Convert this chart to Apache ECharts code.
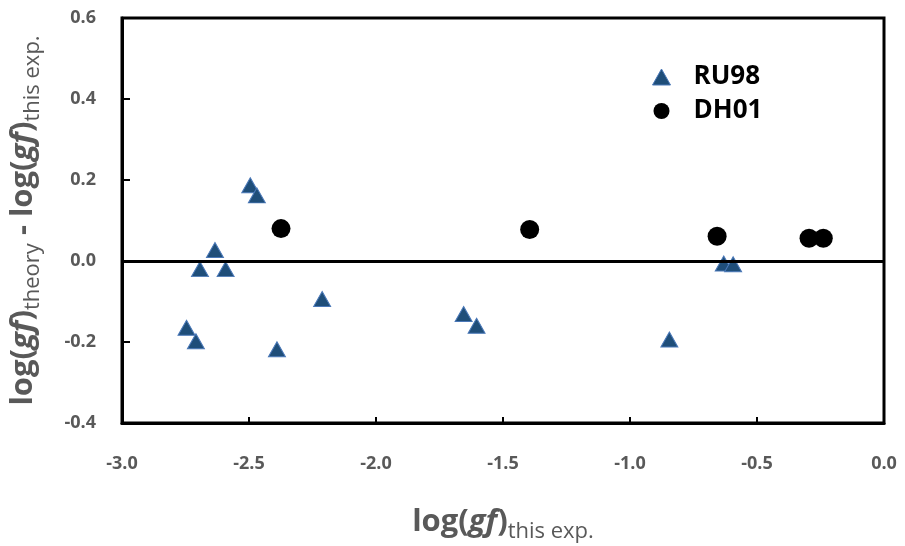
<!DOCTYPE html>
<html>
<head>
<meta charset="utf-8">
<script src="https://cdn.jsdelivr.net/npm/echarts@6/dist/echarts.min.js"></script>
<style>
  html, body { margin: 0; padding: 0; background: #fff; }
  #main { width: 905px; height: 546px; }
</style>
</head>
<body>
<div id="main"></div>
<script>
// RU98: log(gf) this exp. vs difference
var ru98X = [-2.495, -2.469, -2.634, -2.693, -2.592, -2.212, -2.746, -2.709, -2.390, -1.655, -1.604, -0.845, -0.631, -0.594];
var ru98Y = [0.187, 0.162, 0.027, -0.020, -0.020, -0.094, -0.165, -0.198, -0.218, -0.131, -0.160, -0.194, -0.006, -0.008];
// DH01
var dh01X = [-2.374, -1.395, -0.657, -0.295, -0.239];
var dh01Y = [0.080, 0.078, 0.061, 0.056, 0.056];

var xTicks = [-3.0, -2.5, -2.0, -1.5, -1.0, -0.5, 0.0];
var yTicks = [-0.4, -0.2, 0.0, 0.2, 0.4, 0.6];

function pairs(xs, ys) {
  var out = [];
  for (var i = 0; i < xs.length; i++) {
    out.push([xs[i], ys[i]]);
  }
  return out;
}

var fontFam = '"Open Sans", "Liberation Sans", sans-serif';
var titleRich = {
  a: { fontSize: 31, fontWeight: 'bold', color: '#595959', fontFamily: fontFam, lineHeight: 42, verticalAlign: 'middle' },
  i: { fontSize: 31, fontWeight: 'bold', fontStyle: 'italic', color: '#595959', fontFamily: fontFam, lineHeight: 42, verticalAlign: 'middle' },
  s: { fontSize: 22, fontWeight: 'normal', color: '#595959', fontFamily: fontFam, lineHeight: 22, verticalAlign: 'bottom' }
};

var myChart = echarts.init(document.getElementById('main'));

var option = {
  animation: false,
  backgroundColor: '#fff',
  grid: {
    left: 122,
    right: 21,
    top: 18,
    bottom: 123,
    containLabel: false,
    outerBoundsMode: 'none',
    show: true,
    borderColor: '#000',
    borderWidth: 3,
    backgroundColor: 'transparent'
  },
  legend: {
    orient: 'vertical',
    left: 647,
    top: 59,
    itemGap: 8,
    itemWidth: 18,
    itemHeight: 16,
    textStyle: { fontSize: 26, fontWeight: 'bold', color: '#000', fontFamily: fontFam, padding: [0, 0, 0, 18] },
    data: [
      { name: 'RU98', icon: 'triangle', itemStyle: { color: '#1f4e79', borderColor: '#4a78b8', borderWidth: 1 } },
      { name: 'DH01', icon: 'circle', itemStyle: { color: '#000' } }
    ]
  },
  xAxis: {
    type: 'value',
    min: -3,
    max: 0,
    interval: 0.5,
    name: '{a|log(}{i|gf}{a|)}{s|this exp.}',
    nameLocation: 'middle',
    nameGap: 78,
    nameTextStyle: { rich: titleRich },
    axisLine: { onZero: false, lineStyle: { color: '#000', width: 3 } },
    axisTick: { inside: true, length: 6, lineStyle: { color: '#000', width: 2 } },
    axisLabel: {
      margin: 32,
      fontSize: 18,
      fontWeight: 'bold',
      color: '#595959',
      fontFamily: fontFam,
      formatter: function (v) { return v.toFixed(1); }
    },
    splitLine: { show: false }
  },
  yAxis: {
    type: 'value',
    min: -0.4,
    max: 0.6,
    interval: 0.2,
    name: '{a|log(}{i|gf}{a|)}{s|theory}{a| - log(}{i|gf}{a|)}{s|this exp.}',
    nameLocation: 'middle',
    nameRotate: 90,
    nameGap: 78,
    nameTextStyle: { rich: titleRich },
    axisLine: { onZero: false, lineStyle: { color: '#000', width: 3 } },
    axisTick: { inside: true, length: 8, lineStyle: { color: '#000', width: 2 } },
    axisLabel: {
      margin: 26,
      fontSize: 18,
      fontWeight: 'bold',
      color: '#595959',
      fontFamily: fontFam,
      formatter: function (v) { return v.toFixed(1); }
    },
    splitLine: { show: false }
  },
  series: [
    {
      name: 'RU98',
      type: 'scatter',
      symbol: 'triangle',
      symbolSize: [17, 15],
      itemStyle: { color: '#1f4e79', borderColor: '#4a78b8', borderWidth: 1, opacity: 1 },
      data: pairs(ru98X, ru98Y),
      z: 3,
      markLine: {
        silent: true,
        symbol: ['none', 'none'],
        label: { show: false },
        lineStyle: { color: '#000', width: 3, type: 'solid' },
        data: [{ yAxis: 0 }]
      }
    },
    {
      name: 'DH01',
      type: 'scatter',
      symbol: 'circle',
      symbolSize: 19,
      itemStyle: { color: '#000', opacity: 1 },
      data: pairs(dh01X, dh01Y),
      z: 3
    }
  ]
};

myChart.setOption(option);
</script>
</body>
</html>
